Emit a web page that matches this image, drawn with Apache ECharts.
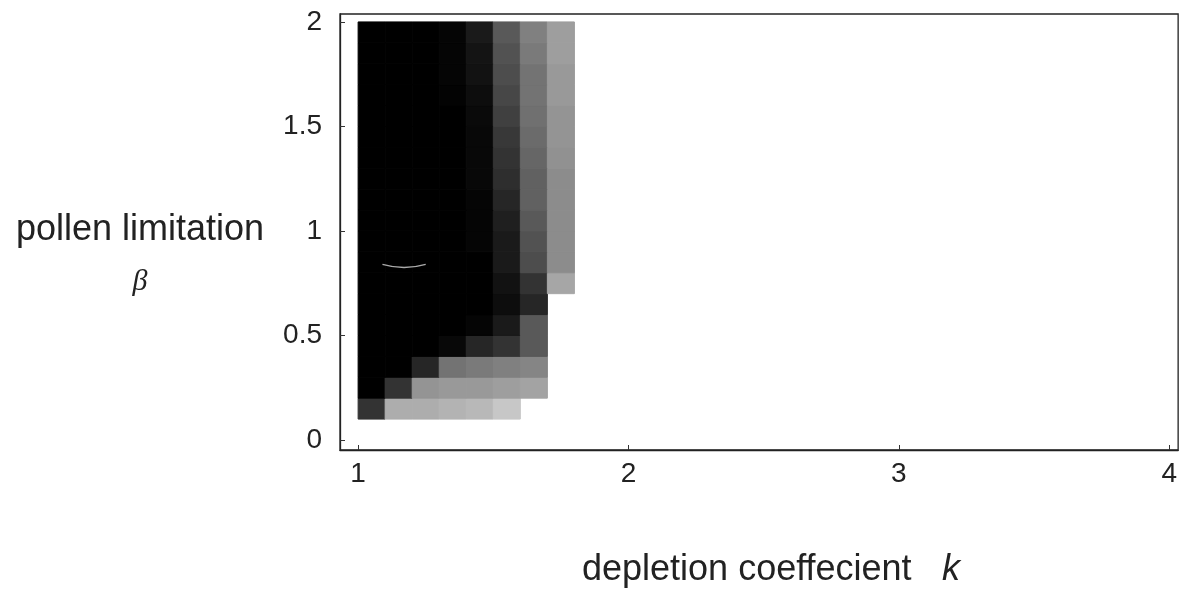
<!DOCTYPE html>
<html>
<head>
<meta charset="utf-8">
<script src="https://cdn.jsdelivr.net/npm/echarts@6/dist/echarts.min.js"></script>
<style>
  html, body { margin: 0; padding: 0; background: #fff; }
  #chart { width: 1180px; height: 592px; }
</style>
</head>
<body>
<div id="chart"></div>
<script>
// left edge of each k column and bottom edge of each beta row (cell size 0.1)
const kCells = [1.0, 1.1, 1.2, 1.3, 1.4, 1.5, 1.6, 1.7];
const betaCells = [0.1, 0.2, 0.3, 0.4, 0.5, 0.6, 0.7, 0.8, 0.9, 1.0,
                   1.1, 1.2, 1.3, 1.4, 1.5, 1.6, 1.7, 1.8, 1.9];
const step = 0.1;
// darkness of each cell (1 = black), one row per beta, null = no cell
const shade = [
  [0.80, 0.32, 0.32, 0.30, 0.28, 0.22, null, null], // 0.1
  [1.00, 0.80, 0.42, 0.40, 0.40, 0.38, 0.36, null], // 0.2
  [1.00, 1.00, 0.85, 0.55, 0.52, 0.50, 0.48, null], // 0.3
  [1.00, 1.00, 1.00, 0.97, 0.85, 0.80, 0.65, null], // 0.4
  [1.00, 1.00, 1.00, 1.00, 0.98, 0.90, 0.65, null], // 0.5
  [1.00, 1.00, 1.00, 1.00, 1.00, 0.95, 0.85, null], // 0.6
  [1.00, 1.00, 1.00, 1.00, 1.00, 0.93, 0.80, 0.35], // 0.7
  [1.00, 1.00, 1.00, 1.00, 1.00, 0.90, 0.70, 0.45], // 0.8
  [1.00, 1.00, 1.00, 1.00, 0.98, 0.90, 0.68, 0.45], // 0.9
  [1.00, 1.00, 1.00, 1.00, 0.98, 0.88, 0.65, 0.45], // 1.0
  [1.00, 1.00, 1.00, 1.00, 0.98, 0.85, 0.62, 0.45], // 1.1
  [1.00, 1.00, 1.00, 1.00, 0.97, 0.82, 0.62, 0.45], // 1.2
  [1.00, 1.00, 1.00, 1.00, 0.97, 0.80, 0.60, 0.43], // 1.3
  [1.00, 1.00, 1.00, 1.00, 0.97, 0.78, 0.58, 0.42], // 1.4
  [1.00, 1.00, 1.00, 1.00, 0.96, 0.75, 0.56, 0.42], // 1.5
  [1.00, 1.00, 1.00, 0.99, 0.95, 0.72, 0.55, 0.40], // 1.6
  [1.00, 1.00, 1.00, 0.98, 0.93, 0.70, 0.55, 0.40], // 1.7
  [1.00, 1.00, 1.00, 0.98, 0.92, 0.68, 0.52, 0.38], // 1.8
  [1.00, 1.00, 1.00, 0.98, 0.90, 0.65, 0.50, 0.38]  // 1.9
];
const xTicks = [1, 2, 3, 4];
const yTicks = [0, 0.5, 1, 1.5, 2];
// faint light streak inside the dark region
const streak = [[1.09, 0.84], [1.17, 0.825], [1.25, 0.84]];

let cells = [];
shade.forEach((row, i) => {
  row.forEach((v, j) => {
    if (v != null) cells.push([kCells[j], betaCells[i], v]);
  });
});

const labelFont = 'Liberation Sans';
var myChart = echarts.init(document.getElementById('chart'));
let option = {
  animation: false,
  grid: {
    left: 340, top: 14, width: 839, height: 436,
    show: true, borderColor: '#222', borderWidth: 1.3
  },
  visualMap: {
    show: false, min: 0, max: 1, dimension: 2, seriesIndex: 0,
    inRange: { color: ['#ffffff', '#000000'] }
  },
  xAxis: {
    type: 'value', min: 0.933, max: 4.033,
    splitLine: { show: false },
    axisLine: { show: true, onZero: false, lineStyle: { color: '#222', width: 1.3 } },
    axisTick: { show: true, inside: true, length: 5, customValues: xTicks, lineStyle: { color: '#333' } },
    axisLabel: { customValues: xTicks, margin: 10, fontSize: 28, fontFamily: labelFont, color: '#222' }
  },
  yAxis: {
    type: 'value', min: -0.048, max: 2.038,
    splitLine: { show: false },
    axisLine: { show: true, onZero: false, lineStyle: { color: '#222', width: 1.3 } },
    axisTick: { show: true, inside: true, length: 5, customValues: yTicks, lineStyle: { color: '#333' } },
    axisLabel: { customValues: yTicks, margin: 18, fontSize: 28, fontFamily: labelFont, color: '#222' }
  },
  series: [
    {
      type: 'custom',
      data: cells,
      renderItem: function (params, api) {
        let k = api.value(0), b = api.value(1);
        let p0 = api.coord([k, b + step]);
        let p1 = api.coord([k + step, b]);
        let c = api.visual('color');
        return {
          type: 'rect',
          shape: { x: p0[0], y: p0[1], width: p1[0] - p0[0], height: p1[1] - p0[1] },
          style: { fill: c, stroke: c, lineWidth: 1 }
        };
      }
    },
    {
      type: 'line',
      data: streak,
      smooth: true,
      symbol: 'none',
      lineStyle: { color: '#aaa', width: 1.5 },
      z: 5
    }
  ],
  graphic: [
    { type: 'text', x: 140, y: 230, style: { text: 'pollen limitation', font: '36px "Liberation Sans"', fill: '#222', textAlign: 'center', textVerticalAlign: 'middle' } },
    { type: 'text', x: 140, y: 282, style: { text: 'β', font: 'italic 30px "Liberation Serif"', fill: '#222', textAlign: 'center', textVerticalAlign: 'middle' } },
    { type: 'text', x: 582, y: 570, style: { text: 'depletion coeffecient', font: '36px "Liberation Sans"', fill: '#222', textAlign: 'left', textVerticalAlign: 'middle' } },
    { type: 'text', x: 942, y: 570, style: { text: 'k', font: 'italic 36px "Liberation Sans"', fill: '#222', textAlign: 'left', textVerticalAlign: 'middle' } }
  ]
};
myChart.setOption(option);
</script>
</body>
</html>
